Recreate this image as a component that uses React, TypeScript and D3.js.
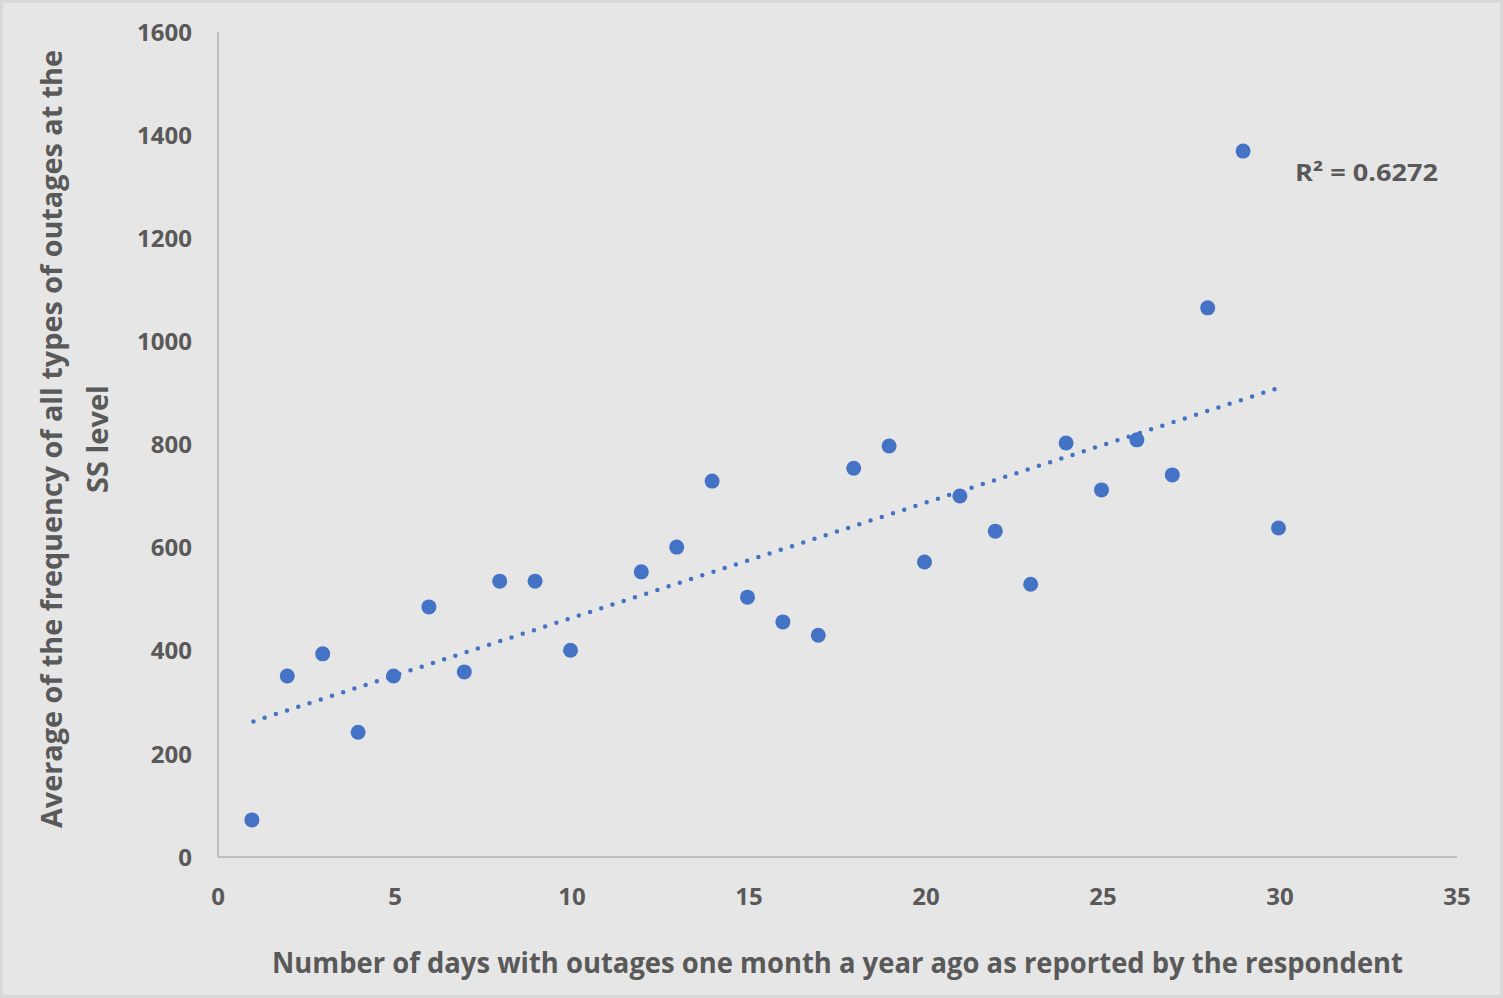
import React, { useEffect, useRef } from 'react';
import * as d3 from 'd3';

// days with outages (x) and average outage frequency (y)
const days = [1, 2, 3, 4, 5, 6, 7, 8, 9, 10, 12, 13, 14, 15, 16, 17, 18, 19, 20, 21, 22, 23, 24, 25, 26, 27, 28, 29, 30];
const avgFreq = [72, 351, 394, 242, 351, 485, 359, 535, 535, 401, 553, 601, 729, 504, 456, 430, 754, 797, 572, 700, 632, 529, 803, 712, 809, 741, 1065, 1369, 638];
const xTicks = [0, 5, 10, 15, 20, 25, 30, 35];
const yTicks = [0, 200, 400, 600, 800, 1000, 1200, 1400, 1600];
const rSquaredLabel = 'R² = 0.6272';
const xTitle = 'Number of days with outages one month a year ago as reported by the respondent';
const yTitle = ['Average of the frequency of all types of outages at the', 'SS level'];

const W = 1503;
const H = 998;
const FONT = '"Open Sans", sans-serif';
const TEXT = '#595959';

const App = () => {
  const ref = useRef<SVGSVGElement>(null);

  useEffect(() => {
    const svg = d3.select(ref.current);
    svg.selectAll('*').remove();

    svg.append('rect')
      .attr('x', 1.5).attr('y', 1.5)
      .attr('width', W - 3).attr('height', H - 3)
      .attr('fill', '#e6e6e6')
      .attr('stroke', '#d9d9d9')
      .attr('stroke-width', 3);

    const x = d3.scaleLinear().domain([0, 35]).range([218, 1457]);
    const y = d3.scaleLinear().domain([0, 1600]).range([857, 32]);

    // axes lines
    svg.append('line')
      .attr('x1', x(0)).attr('x2', x(0))
      .attr('y1', y(1600)).attr('y2', y(0))
      .attr('stroke', '#bfbfbf').attr('stroke-width', 2);
    svg.append('line')
      .attr('x1', x(0)).attr('x2', x(35))
      .attr('y1', y(0)).attr('y2', y(0))
      .attr('stroke', '#bfbfbf').attr('stroke-width', 2);

    // tick labels
    svg.append('g').selectAll('text')
      .data(yTicks).enter().append('text')
      .attr('x', 192)
      .attr('y', d => y(d))
      .attr('dy', '0.36em')
      .attr('text-anchor', 'end')
      .attr('font-family', FONT).attr('font-weight', 700)
      .attr('font-size', 24).attr('fill', TEXT)
      .text(d => d);

    svg.append('g').selectAll('text')
      .data(xTicks).enter().append('text')
      .attr('x', d => x(d))
      .attr('y', 896)
      .attr('dy', '0.36em')
      .attr('text-anchor', 'middle')
      .attr('font-family', FONT).attr('font-weight', 700)
      .attr('font-size', 24).attr('fill', TEXT)
      .text(d => d);

    // linear trendline (least squares)
    const mx = d3.mean(days) as number;
    const my = d3.mean(avgFreq) as number;
    const sxy = d3.sum(days, (d, i) => (d - mx) * (avgFreq[i] - my));
    const sxx = d3.sum(days, d => (d - mx) * (d - mx));
    const slope = sxy / sxx;
    const icpt = my - slope * mx;
    const ext = d3.extent(days) as [number, number];
    svg.append('line')
      .attr('x1', x(ext[0])).attr('y1', y(icpt + slope * ext[0]))
      .attr('x2', x(ext[1])).attr('y2', y(icpt + slope * ext[1]))
      .attr('stroke', '#4472c4')
      .attr('stroke-width', 4.5)
      .attr('stroke-linecap', 'round')
      .attr('stroke-dasharray', '0 11.8');

    // points
    svg.append('g').selectAll('circle')
      .data(days).enter().append('circle')
      .attr('cx', d => x(d) - 1.5)
      .attr('cy', (d, i) => y(avgFreq[i]))
      .attr('r', 7.5)
      .attr('fill', '#4472c4');

    svg.append('text')
      .attr('x', 1295).attr('y', 172)
      .attr('dy', '0.36em')
      .attr('font-family', FONT).attr('font-weight', 700)
      .attr('font-size', 24).attr('fill', TEXT)
      .attr('textLength', 143).attr('lengthAdjust', 'spacingAndGlyphs')
      .text(rSquaredLabel);

    // axis titles
    svg.append('text')
      .attr('x', (272 + 1403) / 2).attr('y', 963)
      .attr('dy', '0.36em')
      .attr('text-anchor', 'middle')
      .attr('font-family', FONT).attr('font-weight', 700)
      .attr('font-size', 29).attr('fill', TEXT)
      .attr('textLength', 1131).attr('lengthAdjust', 'spacingAndGlyphs')
      .text(xTitle);

    const yt = svg.append('g').attr('transform', 'translate(52,439) rotate(-90)');
    yt.append('text')
      .attr('x', 0).attr('y', 0)
      .attr('dy', '0.36em')
      .attr('text-anchor', 'middle')
      .attr('font-family', FONT).attr('font-weight', 700)
      .attr('font-size', 29).attr('fill', TEXT)
      .attr('textLength', 778).attr('lengthAdjust', 'spacingAndGlyphs')
      .text(yTitle[0]);
    yt.append('text')
      .attr('x', 0).attr('y', 46)
      .attr('dy', '0.36em')
      .attr('text-anchor', 'middle')
      .attr('font-family', FONT).attr('font-weight', 700)
      .attr('font-size', 29).attr('fill', TEXT)
      .text(yTitle[1]);
  }, []);

  return (
    <svg ref={ref} width={W} height={H} style={{ position: 'absolute', left: 0, top: 0 }} />
  );
};

export default App;
